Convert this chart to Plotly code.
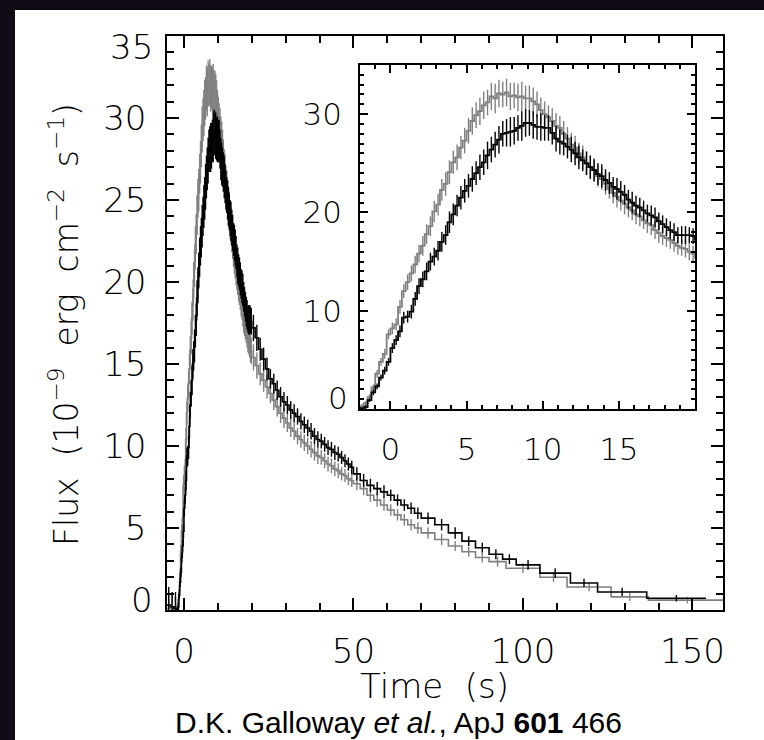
import numpy as np
import plotly.graph_objects as go

W, H = 764, 740

# ---------------- time binning (s) ----------------
PRE_EDGES = [-5.0, -4.0, -3.0]                       # 1 s pre-burst bins
FINE = (-2.0, 20.0, 0.25)                            # 0.25 s bins
MID1 = (20.0, 50.0, 1.0)                             # 1 s bins
MID2 = (50.0, 70.0, 2.0)                             # 2 s bins
MID4 = (70.0, 90.0, 4.0)                             # 4 s bins
BLACK_TAIL_EDGES = [90, 94, 98, 105, 114, 122, 136.5, 154]
GREY_TAIL_EDGES = [90, 95, 105, 113, 126, 137, 160]

# ---------------- flux values (1e-9 erg cm^-2 s^-1) ----------------
GREY_PRE = [0.1, 0.2, 0.0]
GREY_FINE = [
    0.3, 0.6, 1.2, 2.2, 3.6, 4.8, 5.6, 7.6,
    8.2, 8.6, 10.4, 12.0, 12.9, 13.8, 14.7, 15.8,
    16.6, 17.8, 18.6, 20.1, 20.8, 22.3, 22.9, 24.1,
    25.1, 25.6, 26.6, 27.3, 28.3, 29.3, 29.9, 30.3,
    30.9, 31.2, 31.8, 31.6, 32.1, 32.0, 32.2, 31.8,
    31.9, 31.7, 31.8, 31.6, 31.6, 31.3, 31.0, 30.4,
    30.0, 29.7, 29.3, 28.8, 28.6, 28.0, 27.5, 26.9,
    26.6, 26.0, 25.6, 25.0, 24.6, 24.3, 23.7, 23.4,
    22.9, 22.4, 22.0, 21.6, 21.2, 20.9, 20.5, 20.2,
    19.8, 19.6, 19.2, 18.9, 18.7, 18.2, 17.9, 17.6,
    17.4, 17.2, 16.9, 16.6, 16.4, 16.3, 16.0, 15.8]
GREY_1S = [15.4, 14.9, 14.4, 14.0, 13.6, 13.2, 12.8, 12.4, 12.0, 11.7,
           11.4, 11.1, 10.9, 10.6, 10.4, 10.2, 10.0, 9.8, 9.6, 9.4,
           9.3, 9.1, 8.9, 8.8, 8.6, 8.5, 8.3, 8.2, 8.0, 7.9]
GREY_2S = [7.7, 7.4, 7.0, 6.7, 6.4, 6.1, 5.8, 5.5, 5.2, 5.0]
GREY_4S = [4.7, 4.3, 3.9, 3.55, 3.2]
GREY_TAIL = [2.95, 2.55, 2.0, 1.4, 0.8, 0.6]

BLACK_PRE = [0.3, 0.2, 0.1]
BLACK_FINE = [
    0.0, 0.2, 0.9, 1.7, 2.3, 3.2, 3.9, 4.8,
    6.2, 7.0, 7.9, 9.3, 9.4, 9.9, 11.2, 12.5,
    13.2, 14.0, 15.0, 15.5, 16.1, 17.0, 17.7, 19.0,
    19.8, 20.7, 21.5, 22.2, 22.7, 23.4, 24.0, 24.6,
    25.1, 25.8, 26.4, 26.9, 27.4, 28.0, 28.1, 28.2,
    28.3, 28.6, 28.8, 29.1, 29.1, 28.9, 28.7, 28.7,
    28.6, 28.6, 28.1, 27.5, 27.2, 27.0, 26.7, 26.4,
    26.0, 25.6, 25.3, 25.0, 24.6, 24.3, 23.9, 23.7,
    23.3, 23.0, 22.6, 22.4, 22.1, 21.8, 21.3, 21.0,
    20.7, 20.5, 20.2, 19.9, 19.7, 19.5, 19.1, 18.8,
    18.5, 18.2, 18.0, 17.7, 17.7, 17.7, 17.7, 17.6]
BLACK_1S = [17.2, 16.6, 15.9, 15.3, 14.7, 14.1, 13.8, 13.4, 13.0, 12.7,
            12.5, 12.2, 12.0, 11.8, 11.5, 11.3, 11.1, 10.9, 10.6, 10.4,
            10.3, 10.1, 9.9, 9.8, 9.6, 9.5, 9.3, 9.1, 8.9, 8.7]
BLACK_2S = [8.3, 7.9, 7.6, 7.4, 7.2, 7.0, 6.7, 6.4, 6.2, 5.9]
BLACK_4S = [5.6, 5.2, 4.7, 4.2, 3.8]
BLACK_TAIL = [3.4, 3.1, 2.75, 2.25, 1.65, 1.1, 0.72]

# ---------------- 1-sigma errors ----------------
GREY_ERR_PRE = [0.9, 0.8, 0.8]
GREY_ERR_FINE = [
    0.2, 0.2, 0.3, 0.3, 0.4, 0.4, 0.5, 0.5,
    0.6, 0.6, 0.7, 0.7, 0.8, 0.8, 0.9, 0.9,
    1.0, 1.0, 1.0, 1.1, 1.1, 1.1, 1.2, 1.2,
    1.2, 1.3, 1.2, 1.3, 1.3, 1.4, 1.3, 1.4,
    1.4, 1.3, 1.4, 1.5, 1.4, 1.3, 1.4, 1.4,
    1.3, 1.4, 1.5, 1.3, 1.3, 1.4, 1.3, 1.3,
    1.3, 1.2, 1.3, 1.3, 1.2, 1.3, 1.2, 1.2,
    1.2, 1.1, 1.2, 1.2, 1.1, 1.2, 1.1, 1.1,
    1.1, 1.0, 1.1, 1.1, 1.0, 1.1, 1.0, 1.0,
    1.0, 1.0, 0.9, 1.0, 1.0, 0.9, 1.0, 0.9,
    0.9, 0.9, 0.9, 0.9, 0.8, 0.9, 0.9, 0.8]
GREY_ERR_1S = [0.8, 0.8, 0.7, 0.7, 0.7, 0.6, 0.6, 0.6, 0.6, 0.6,
               0.55, 0.55, 0.55, 0.5, 0.5, 0.5, 0.5, 0.5, 0.5, 0.5,
               0.45, 0.45, 0.45, 0.45, 0.45, 0.45, 0.4, 0.4, 0.4, 0.4]
GREY_ERR_2S = [0.4, 0.4, 0.4, 0.4, 0.35, 0.35, 0.35, 0.35, 0.35, 0.35]
GREY_ERR_4S = [0.35, 0.35, 0.3, 0.3, 0.3]
GREY_ERR_TAIL = [0.3, 0.3, 0.3, 0.25, 0.25, 0.2]

BLACK_ERR_PRE = [1.1, 0.9, 1.0]
BLACK_ERR_FINE = [
    0.2, 0.2, 0.2, 0.3, 0.3, 0.3, 0.4, 0.4,
    0.5, 0.5, 0.6, 0.6, 0.6, 0.7, 0.7, 0.8,
    0.8, 0.9, 0.9, 0.9, 1.0, 1.0, 1.0, 1.1,
    1.1, 1.1, 1.2, 1.2, 1.2, 1.3, 1.2, 1.3,
    1.3, 1.4, 1.3, 1.3, 1.4, 1.3, 1.4, 1.5,
    1.4, 1.3, 1.5, 1.4, 1.3, 1.4, 1.3, 1.4,
    1.3, 1.3, 1.2, 1.3, 1.3, 1.2, 1.2, 1.3,
    1.2, 1.2, 1.1, 1.2, 1.2, 1.1, 1.1, 1.2,
    1.1, 1.1, 1.0, 1.1, 1.1, 1.0, 1.0, 1.1,
    1.0, 1.0, 1.0, 0.9, 1.0, 1.0, 0.9, 0.9,
    0.9, 0.9, 0.9, 0.8, 0.9, 0.9, 0.8, 0.8]
BLACK_ERR_1S = [0.8, 0.8, 0.7, 0.7, 0.7, 0.6, 0.6, 0.6, 0.6, 0.6,
                0.55, 0.55, 0.55, 0.5, 0.5, 0.5, 0.5, 0.5, 0.5, 0.5,
                0.45, 0.45, 0.45, 0.45, 0.45, 0.45, 0.4, 0.4, 0.4, 0.4]
BLACK_ERR_2S = [0.4, 0.4, 0.4, 0.4, 0.4, 0.35, 0.35, 0.35, 0.35, 0.35]
BLACK_ERR_4S = [0.35, 0.35, 0.35, 0.3, 0.3]
BLACK_ERR_TAIL = [0.3, 0.3, 0.3, 0.3, 0.25, 0.25, 0.2]

MAIN_X_TICKS = [0, 50, 100, 150]
MAIN_Y_TICKS = [0, 5, 10, 15, 20, 25, 30, 35]
INSET_X_TICKS = [0, 5, 10, 15]
INSET_Y_TICKS = [0, 10, 20, 30]
# end labels that the original draws nudged inward from their ticks (pixels, up = +)
MAIN_Y_NUDGED = {0: 10, 35: -11}
INSET_Y_NUDGED = {0: 11}

GREY = "#808080"
BLACK = "#000000"
TICK_FONT = "DejaVu Sans"
CAPTION_FONT = "Liberation Sans"
PAGE_BG = "#120b16"
NB = "\u00a0"


def seg(spec):
    a, b, s = spec
    return list(np.arange(a, b - 1e-9, s))


HEAD_EDGES = PRE_EDGES + seg(FINE) + seg(MID1) + seg(MID2) + seg(MID4)


def build(edges_tail, parts, errs):
    edges = np.array(HEAD_EDGES + list(edges_tail), dtype=float)
    vals = np.array(sum(parts, []), dtype=float)
    err = np.array(sum(errs, []), dtype=float)
    assert len(edges) == len(vals) + 1 == len(err) + 1, (len(edges), len(vals), len(err))
    return edges, vals, err


series = [
    ("grey", GREY, build(GREY_TAIL_EDGES,
                         [GREY_PRE, GREY_FINE, GREY_1S, GREY_2S, GREY_4S, GREY_TAIL],
                         [GREY_ERR_PRE, GREY_ERR_FINE, GREY_ERR_1S, GREY_ERR_2S, GREY_ERR_4S, GREY_ERR_TAIL])),
    ("black", BLACK, build(BLACK_TAIL_EDGES,
                           [BLACK_PRE, BLACK_FINE, BLACK_1S, BLACK_2S, BLACK_4S, BLACK_TAIL],
                           [BLACK_ERR_PRE, BLACK_ERR_FINE, BLACK_ERR_1S, BLACK_ERR_2S, BLACK_ERR_4S, BLACK_ERR_TAIL])),
]

fig = go.Figure()
for xa, ya, lw in [("x", "y", 1.6), ("x2", "y2", 1.8)]:
    for name, color, (edges, vals, err) in series:
        centers = 0.5 * (edges[:-1] + edges[1:])
        fig.add_trace(go.Scatter(
            x=centers, y=vals, mode="markers", xaxis=xa, yaxis=ya,
            marker=dict(size=1, color=color),
            error_y=dict(type="data", array=err, color=color, thickness=1.4, width=0),
            showlegend=False, hoverinfo="skip"))
        fig.add_trace(go.Scatter(
            x=edges, y=list(vals) + [vals[-1]], mode="lines", xaxis=xa, yaxis=ya,
            line=dict(shape="hv", color=color, width=lw),
            showlegend=False, hoverinfo="skip"))


def px_x(x):
    return x / W


def px_y(y):
    return 1 - y / H


def ytext(ticks, nudged):
    return ["" if t in nudged else str(t) for t in ticks]


base_axis = dict(showline=True, linecolor="black", linewidth=1.6, mirror="ticks",
                 ticks="inside", tickcolor="black", tickwidth=1.5,
                 showgrid=False, zeroline=False, automargin=False)

MAIN_FONT = dict(family=TICK_FONT, size=34, color="black", weight=200)
INSET_FONT = dict(family=TICK_FONT, size=31, color="black", weight=200)

annotations = [
    dict(text=f"Flux{NB}{NB}(10<sup>−9</sup>{NB}{NB}erg{NB}{NB}cm<sup>−2</sup>{NB}{NB}s<sup>−1</sup>)",
         xref="paper", yref="paper", x=px_x(64), y=px_y(325),
         xanchor="center", yanchor="middle", textangle=-90, showarrow=False,
         font=dict(MAIN_FONT, size=33)),
    dict(text=f"Time{NB}{NB}(s)", xref="paper", yref="paper",
         x=px_x(435), y=px_y(686), xanchor="center", yanchor="middle",
         showarrow=False, font=MAIN_FONT),
    dict(text="D.K. Galloway <i>et al.</i>, ApJ <b>601</b> 466",
         xref="paper", yref="paper", x=px_x(399), y=px_y(722),
         xanchor="center", yanchor="middle", showarrow=False,
         font=dict(family=CAPTION_FONT, size=30, color="black")),
]
for t, dy in MAIN_Y_NUDGED.items():
    annotations.append(dict(text=str(t), xref="x domain", yref="y", x=0, y=t,
                            xanchor="right", yanchor="middle", xshift=-12, yshift=dy,
                            showarrow=False, font=MAIN_FONT))
for t, dy in INSET_Y_NUDGED.items():
    annotations.append(dict(text=str(t), xref="x2 domain", yref="y2", x=0, y=t,
                            xanchor="right", yanchor="middle", xshift=-10, yshift=dy,
                            showarrow=False, font=INSET_FONT))

fig.update_layout(
    width=W, height=H,
    margin=dict(l=0, r=0, t=0, b=0, pad=0, autoexpand=False),
    paper_bgcolor=PAGE_BG,
    plot_bgcolor="white",
    showlegend=False,
    xaxis=dict(**base_axis, domain=[px_x(167), px_x(723)], anchor="y",
               range=[-5, 159], tickmode="array", tickvals=MAIN_X_TICKS,
               ticklen=12,
               minor=dict(dtick=10, tick0=0, ticklen=7, ticks="inside",
                          tickcolor="black", tickwidth=1.5),
               tickfont=MAIN_FONT, ticklabelstandoff=10),
    yaxis=dict(**base_axis, domain=[px_y(610), px_y(36)], anchor="x",
               range=[0, 35], tickmode="array", tickvals=MAIN_Y_TICKS,
               ticktext=ytext(MAIN_Y_TICKS, MAIN_Y_NUDGED),
               ticklen=12,
               minor=dict(dtick=1, tick0=0, ticklen=7, ticks="inside",
                          tickcolor="black", tickwidth=1.5),
               tickfont=MAIN_FONT, ticklabelstandoff=12),
    xaxis2=dict(**base_axis, domain=[px_x(360), px_x(695)], anchor="y2",
                range=[-2, 20], tickmode="array", tickvals=INSET_X_TICKS,
                ticklen=8,
                minor=dict(dtick=1, tick0=0, ticklen=4, ticks="inside",
                           tickcolor="black", tickwidth=1.5),
                tickfont=INSET_FONT, ticklabelstandoff=12),
    yaxis2=dict(**base_axis, domain=[px_y(409), px_y(65)], anchor="x2",
                range=[0, 35], tickmode="array", tickvals=INSET_Y_TICKS,
                ticktext=ytext(INSET_Y_TICKS, INSET_Y_NUDGED),
                ticklen=8,
                minor=dict(dtick=1, tick0=0, ticklen=4, ticks="inside",
                           tickcolor="black", tickwidth=1.5),
                tickfont=INSET_FONT, ticklabelstandoff=10),
    shapes=[dict(type="rect", xref="paper", yref="paper",
                 x0=px_x(15), x1=1.0, y0=0.0, y1=px_y(10),
                 fillcolor="white", line=dict(width=0), layer="below")],
    annotations=annotations,
)

PAGE_JS = ("document.documentElement.style.margin='0';"
           "document.body.style.margin='0';document.body.style.padding='0';"
           "document.body.style.overflow='hidden';"
           "document.body.style.background='%s';" % PAGE_BG)

fig.write_html("out.html", post_script=PAGE_JS, config={"displayModeBar": False})
